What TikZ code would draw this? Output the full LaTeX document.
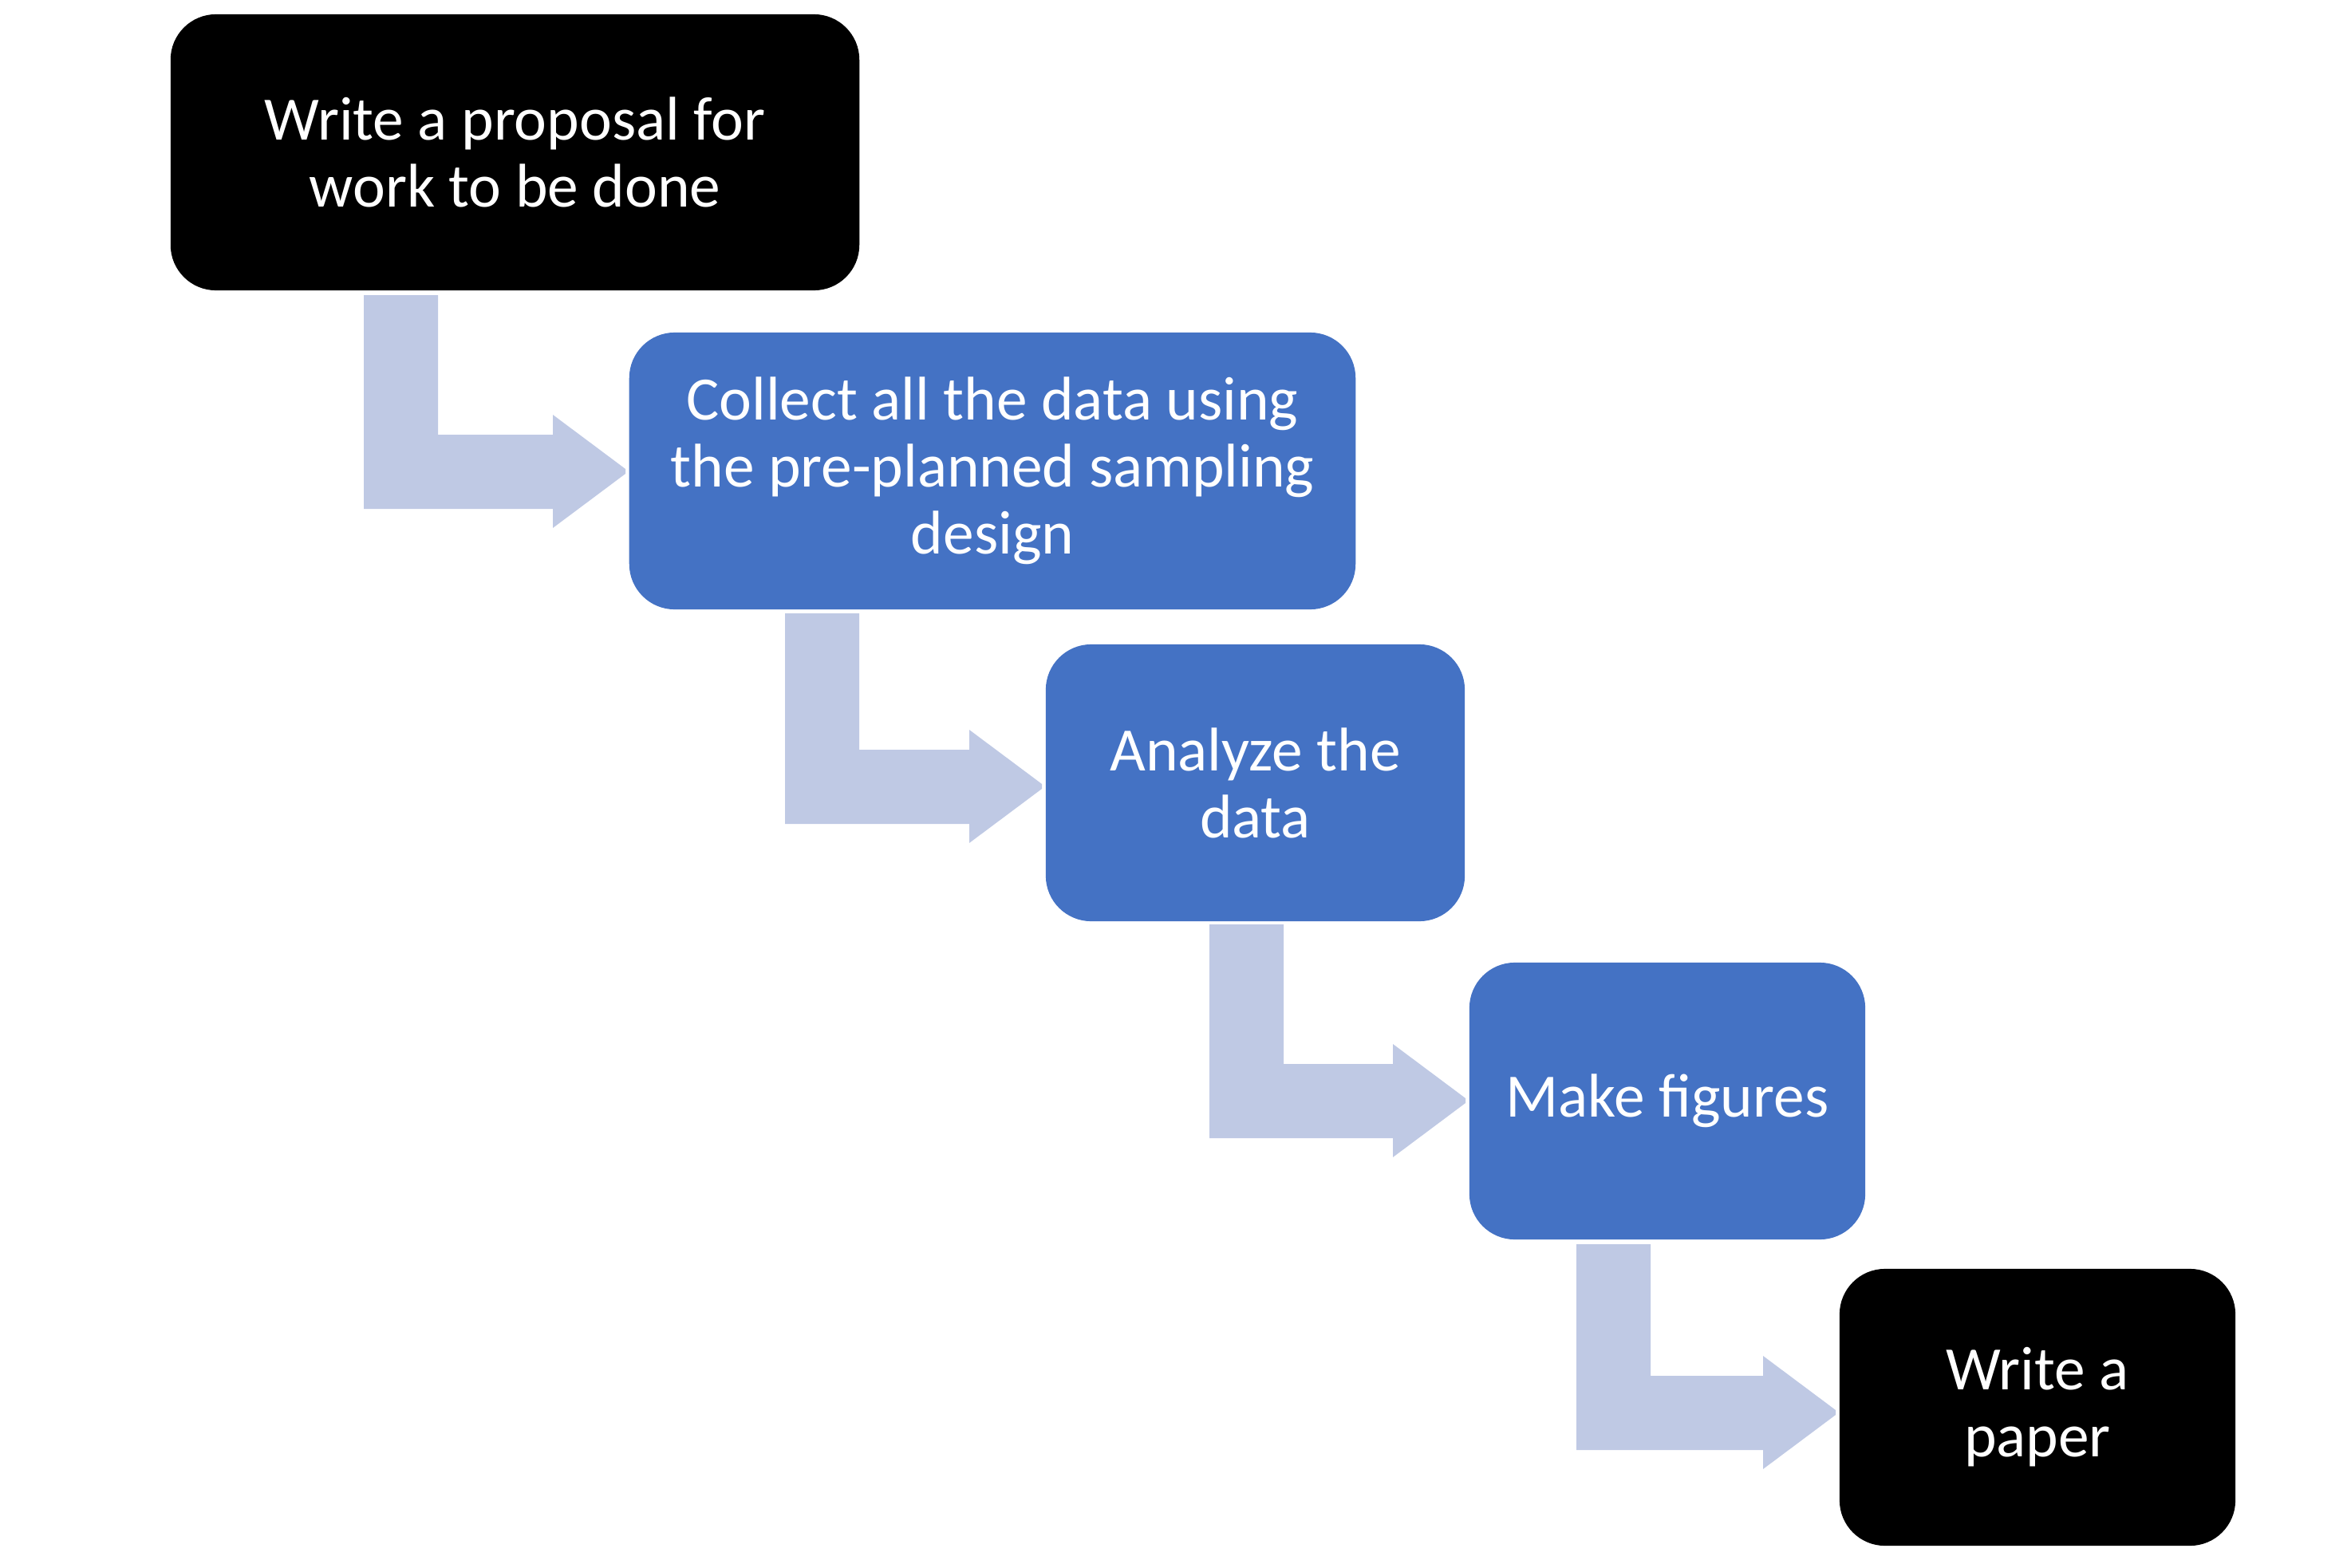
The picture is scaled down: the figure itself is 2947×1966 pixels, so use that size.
\documentclass[tikz,border=0pt]{standalone}
\usepackage{fontspec}
\setmainfont{Carlito}
\definecolor{boxblue}{RGB}{68,114,196}
\definecolor{arrowblue}{RGB}{191,201,228}
\newcommand\bentarr[5]{% name, left x, top y, bar top y, tip x
  \fill[arrowblue] (#2,#3) -- ({#2+93},#3) -- ({#2+93},#4) -- ({#5-91},#4)
    -- ({#5-91},{#4+46-71}) -- (#5,{#4+43}) -- (#5,{#4+49}) -- ({#5-91},{#4+46+71})
    -- ({#5-91},{#4+93}) -- (#2,{#4+93}) -- cycle;
  \coordinate (#1) at (#5,{#4+46});}
\begin{document}
\begin{tikzpicture}[x=0.01cm,y=-0.01cm,
  stepbox/.style={rounded corners=0.57cm, inner sep=0pt, align=center, text=white,
    font=\fontsize{22}{23.9}\selectfont},
  blackbox/.style={stepbox, fill=black},
  bluebox/.style={stepbox, fill=boxblue}]
\useasboundingbox (0,0) rectangle (2947,1966);
\node[blackbox, minimum width=8.63cm, minimum height=3.46cm] (b1) at (645.5,191) {Write a proposal for\\work to be done};
\node[bluebox, minimum width=9.10cm, minimum height=3.47cm] (b2) at (1244,590.5) {Collect all the data using\\the pre-planned sampling\\design};
\node[bluebox, minimum width=5.25cm, minimum height=3.47cm] (b3) at (1573.5,981.5) {Analyze the\\data};
\node[bluebox, minimum width=4.96cm, minimum height=3.47cm] (b4) at (2090,1380.5) {Make figures};
\node[blackbox, minimum width=4.96cm, minimum height=3.47cm] (b5) at (2554,1764.5) {Write a\\paper};
\bentarr{a1}{456}{370}{545}{784}
\bentarr{a2}{984}{769}{940}{1306}
\bentarr{a3}{1516}{1159}{1334}{1837}
\bentarr{a4}{1976}{1560}{1725}{2301}
\end{tikzpicture}
\end{document}
